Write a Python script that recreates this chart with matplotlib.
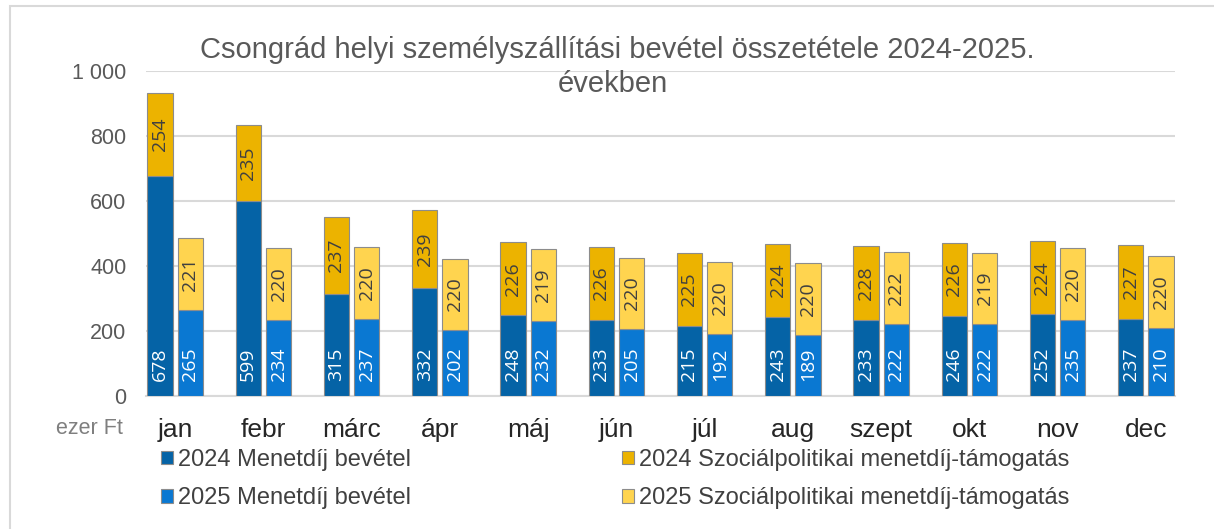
import matplotlib
matplotlib.use("Agg")
import matplotlib.pyplot as plt
import numpy as np
from matplotlib.patches import Rectangle

plt.rcParams['font.family'] = ['Liberation Sans', 'DejaVu Sans']

months = ["jan", "febr", "márc", "ápr", "máj", "jún", "júl", "aug", "szept", "okt", "nov", "dec"]
menet_2024 = [678, 599, 315, 332, 248, 233, 215, 243, 233, 246, 252, 237]
szoc_2024 = [254, 235, 237, 239, 226, 226, 225, 224, 228, 226, 224, 227]
menet_2025 = [265, 234, 237, 202, 232, 205, 192, 189, 222, 222, 235, 210]
szoc_2025 = [221, 220, 220, 220, 219, 220, 220, 220, 222, 219, 220, 220]
yticks = [0, 200, 400, 600, 800, 1000]
ytick_labels = ["0", "200", "400", "600", "800", "1 000"]

c_m24 = "#0563A6"
c_m25 = "#0A78D2"
c_s24 = "#ECB300"
c_s25 = "#FFD44F"
edge = "#8c8c8c"

fig = plt.figure(figsize=(12.14, 5.29), dpi=100)
ax = fig.add_axes([146/1214, 1-396/529, (1175-146)/1214, (396-71)/529])

x = np.arange(len(months))
w = 0.285
off = 0.172

b1 = ax.bar(x - off, menet_2024, w, color=c_m24, edgecolor=edge, linewidth=0.8, label="2024 Menetdíj bevétel", zorder=3)
b2 = ax.bar(x - off, szoc_2024, w, bottom=menet_2024, color=c_s24, edgecolor=edge, linewidth=0.8, label="2024 Szociálpolitikai menetdíj-támogatás", zorder=3)
b3 = ax.bar(x + off, menet_2025, w, color=c_m25, edgecolor=edge, linewidth=0.8, label="2025 Menetdíj bevétel", zorder=3)
b4 = ax.bar(x + off, szoc_2025, w, bottom=menet_2025, color=c_s25, edgecolor=edge, linewidth=0.8, label="2025 Szociálpolitikai menetdíj-támogatás", zorder=3)

lblfont = dict(rotation=90, fontsize=14, family=["Open Sans", "DejaVu Sans"], zorder=4)
for xi, v in zip(x - off, menet_2024):
    ax.text(xi, 45, str(v), ha="center", va="bottom", color="white", **lblfont)
for xi, v in zip(x + off, menet_2025):
    ax.text(xi, 45, str(v), ha="center", va="bottom", color="white", **lblfont)
for xi, b, v in zip(x - off, menet_2024, szoc_2024):
    ax.text(xi, b + v/2, str(v), ha="center", va="center", color="#404040", **lblfont)
for xi, b, v in zip(x + off, menet_2025, szoc_2025):
    ax.text(xi, b + v/2, str(v), ha="center", va="center", color="#404040", **lblfont)

ax.set_xlim(-0.33, 11.33)
ax.set_ylim(0, 1000)
ax.set_yticks(yticks)
ax.set_yticklabels(ytick_labels, fontsize=15.5, color="#595959")
ax.set_xticks(x)
ax.set_xticklabels(months, fontsize=19, color="#262626")
ax.tick_params(axis="y", length=0, pad=14)
ax.tick_params(axis="x", length=0, pad=16)
ax.grid(axis="y", color="#d9d9d9", linewidth=1.5, zorder=0)
for s in ["top", "right", "left"]:
    ax.spines[s].set_visible(False)
ax.spines["bottom"].set_color("#d9d9d9")
ax.spines["bottom"].set_linewidth(1.5)

fig.text(617/1214, 1-50/529, "Csongrád helyi személyszállítási bevétel összetétele 2024-2025.",
         ha="center", va="center", fontsize=21, color="#595959")
fig.text(613/1214, 1-84/529, "években", ha="center", va="center", fontsize=21, color="#595959")
fig.text(89/1214, 1-429/529, "ezer Ft", ha="center", va="center", fontsize=15.5, color="#7f7f7f")

legkw = dict(loc="center left", frameon=False, fontsize=17, handlelength=0.5, handleheight=0.5,
             handletextpad=0.2, labelspacing=0.7, labelcolor="#404040", borderaxespad=0, borderpad=0)
fig.legend([b1, b3], [b1.get_label(), b3.get_label()], bbox_to_anchor=(161/1214, 1-479/529), **legkw)
fig.legend([b2, b4], [b2.get_label(), b4.get_label()], bbox_to_anchor=(622/1214, 1-479/529), **legkw)

fig.patches.append(Rectangle((10/1214, -0.01), 1.02, 1-6/529+0.01, transform=fig.transFigure,
                             fill=False, edgecolor="#d9d9d9", linewidth=1.5))

fig.savefig("out.png", dpi=100)
